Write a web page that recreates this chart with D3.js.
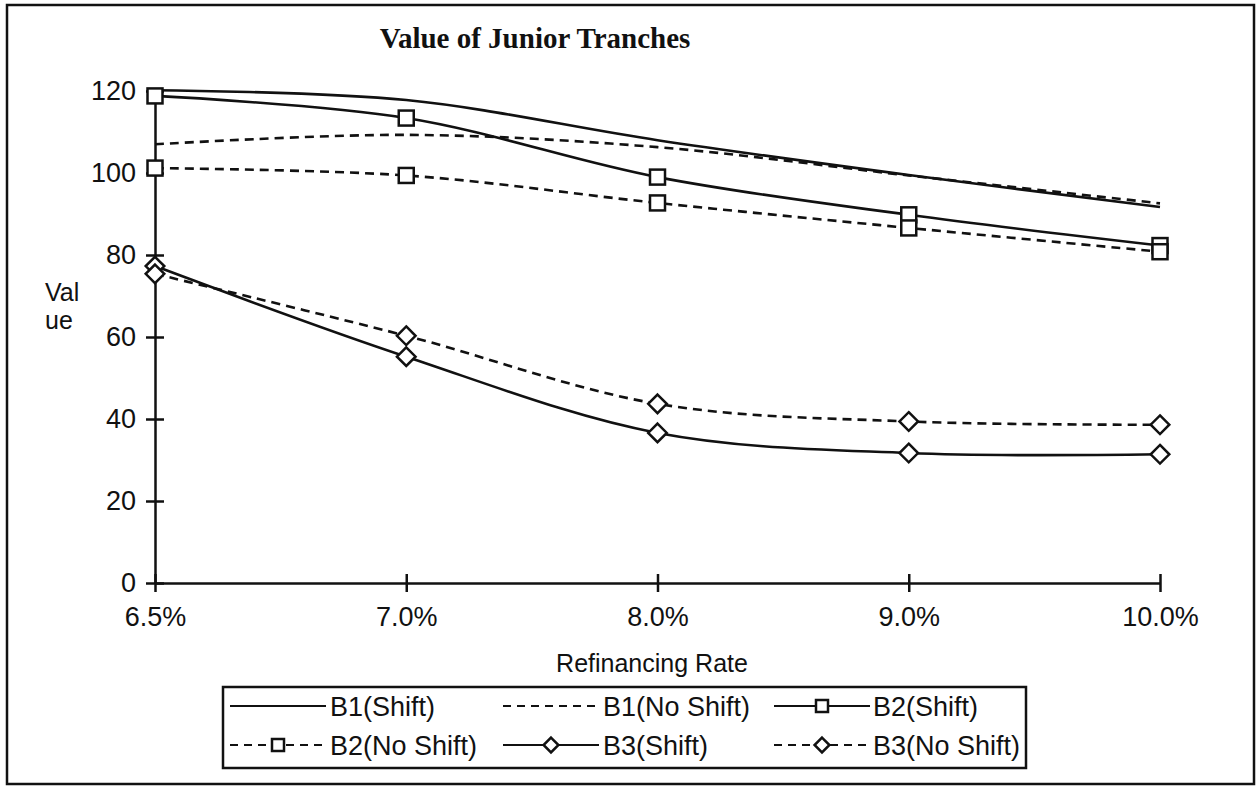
<!DOCTYPE html>
<html>
<head>
<meta charset="utf-8">
<script src="https://cdn.jsdelivr.net/npm/d3@7/dist/d3.min.js"></script>
<style>
    body { margin: 0; background: #fff; }
    #tranchechart text { fill: #111; }
    .tranche__sans { font-family: "Liberation Sans", Arial, Helvetica, sans-serif; }
</style>
</head>
<body>
<div id="tranchechart"></div>
<script>

// values
const rates = ["6.5%", "7.0%", "8.0%", "9.0%", "10.0%"]
const valueTicks = [0, 20, 40, 60, 80, 100, 120]

const b1Shift = [120.2, 117.8, 108.0, 99.5, 91.7]
const b1NoShift = [107.0, 109.3, 106.3, 99.4, 92.6]
const b2Shift = [118.8, 113.4, 99.0, 89.8, 82.3]
const b2NoShift = [101.2, 99.4, 92.7, 86.6, 80.8]
const b3Shift = [77.3, 55.2, 36.6, 31.7, 31.4]
const b3NoShift = [75.4, 60.3, 43.7, 39.4, 38.6]

const seriesNames = ["B1(Shift)", "B1(No Shift)", "B2(Shift)", "B2(No Shift)", "B3(Shift)", "B3(No Shift)"]

class TrancheChart {

    constructor() {

        this.width = 1259
        this.height = 787

        this.series = [
            { name: seriesNames[0], values: b1Shift, dashed: false, marker: null },
            { name: seriesNames[1], values: b1NoShift, dashed: true, marker: null },
            { name: seriesNames[2], values: b2Shift, dashed: false, marker: "square" },
            { name: seriesNames[3], values: b2NoShift, dashed: true, marker: "square" },
            { name: seriesNames[4], values: b3Shift, dashed: false, marker: "diamond" },
            { name: seriesNames[5], values: b3NoShift, dashed: true, marker: "diamond" }
        ]

        this.createChart()

    }

    createChart() {

        var self = this

        this.svg = d3.select("#tranchechart").append("svg")
            .attr("width", self.width)
            .attr("height", self.height)
            .attr("viewBox", `0 0 ${self.width} ${self.height}`)

        // outer frame of the figure
        this.svg.append("rect")
            .attr("x", 7).attr("y", 5)
            .attr("width", 1247).attr("height", 779)
            .attr("fill", "none")
            .attr("stroke", "#111")
            .attr("stroke-width", 2.5)

        this.svg.append("text")
            .attr("x", 535).attr("y", 48)
            .attr("text-anchor", "middle")
            .style("font-family", '"Liberation Serif", "Times New Roman", serif')
            .style("font-weight", "bold")
            .style("font-size", "29px")
            .text("Value of Junior Tranches")

        this.x = d3.scalePoint().domain(rates).range([155, 1160])

        this.y = d3.scaleLinear().domain([0, 120]).range([583, 91])

        this.drawAxes()

        this.drawSeries()

        this.drawLegend()

    }

    drawAxes() {

        var self = this

        var xAxis = this.svg.append("g")
            .attr("class", "tranche__sans")
            .attr("transform", `translate(0,${self.y(0)})`)
            .call(d3.axisBottom(self.x).tickSizeInner(9).tickSizeOuter(0).tickPadding(15))

        var yAxis = this.svg.append("g")
            .attr("class", "tranche__sans")
            .attr("transform", `translate(${self.x(rates[0])},0)`)
            .call(d3.axisLeft(self.y).tickValues(valueTicks).tickSizeInner(9).tickSizeOuter(0).tickPadding(10))

        // ticks cross the axis line on both sides
        xAxis.selectAll(".tick line").attr("y1", -9)
        yAxis.selectAll(".tick line").attr("x1", 9)

        ;[xAxis, yAxis].forEach(g => {
            g.selectAll("path, line").attr("stroke", "#111").attr("stroke-width", 2.5)
            g.selectAll("text").style("font-size", "27px").attr("fill", "#111")
        })

        this.svg.append("text")
            .attr("class", "tranche__sans")
            .attr("x", 652).attr("y", 672)
            .attr("text-anchor", "middle")
            .style("font-size", "25px")
            .text("Refinancing Rate")

        // the axis title is wrapped over two lines in the original
        this.svg.selectAll(".tranche__ylabel")
            .data(["Val", "ue"])
            .enter().append("text")
            .attr("class", "tranche__ylabel tranche__sans")
            .attr("x", 45)
            .attr("y", (d, i) => 301 + i * 28)
            .style("font-size", "25px")
            .text(d => d)

    }

    drawMarker(g, type, cx, cy, size) {

        if (type === "square") {
            g.append("rect")
                .attr("x", cx - size / 2).attr("y", cy - size / 2)
                .attr("width", size).attr("height", size)
                .attr("fill", "#fff").attr("stroke", "#111").attr("stroke-width", 2.5)
        } else if (type === "diamond") {
            var r = size * 0.62
            g.append("path")
                .attr("d", `M${cx},${cy - r}L${cx + r},${cy}L${cx},${cy + r}L${cx - r},${cy}Z`)
                .attr("fill", "#fff").attr("stroke", "#111").attr("stroke-width", 2.5)
        }

    }

    drawSeries() {

        var self = this

        var line = d3.line()
            .x((d, i) => self.x(rates[i]))
            .y(d => self.y(d))
            .curve(d3.curveCatmullRom.alpha(0.5))

        var lineGroup = this.svg.append("g").attr("class", "tranche__lines")

        var markerGroup = this.svg.append("g").attr("class", "tranche__markers")

        this.series.forEach(s => {

            lineGroup.append("path")
                .attr("d", line(s.values))
                .attr("fill", "none")
                .attr("stroke", "#111")
                .attr("stroke-width", 2.6)
                .attr("stroke-dasharray", s.dashed ? "9,6" : null)

            if (s.marker) {
                s.values.forEach((v, i) => self.drawMarker(markerGroup, s.marker, self.x(rates[i]), self.y(v), 15))
            }

        })

    }

    drawLegend() {

        var self = this

        var legend = this.svg.append("g").attr("class", "tranche__legend tranche__sans")

        legend.append("rect")
            .attr("x", 223).attr("y", 687)
            .attr("width", 803).attr("height", 81)
            .attr("fill", "#fff")
            .attr("stroke", "#111")
            .attr("stroke-width", 2.5)

        var symbolCentres = [278, 551, 822]
        var textStarts = [330, 603, 873]
        var rowCentres = [706, 745]

        this.series.forEach((s, i) => {

            var col = i % 3
            var row = Math.floor(i / 3)
            var cy = rowCentres[row]
            var cx = symbolCentres[col]

            legend.append("line")
                .attr("x1", cx - 48).attr("x2", cx + 48)
                .attr("y1", cy).attr("y2", cy)
                .attr("stroke", "#111")
                .attr("stroke-width", 2.2)
                .attr("stroke-dasharray", s.dashed ? "8,6" : null)

            if (s.marker) self.drawMarker(legend, s.marker, cx, cy, 12)

            legend.append("text")
                .attr("x", textStarts[col]).attr("y", cy)
                .attr("dy", "0.36em")
                .style("font-size", "27px")
                .text(s.name)

        })

    }
}

new TrancheChart()

</script>
</body>
</html>
